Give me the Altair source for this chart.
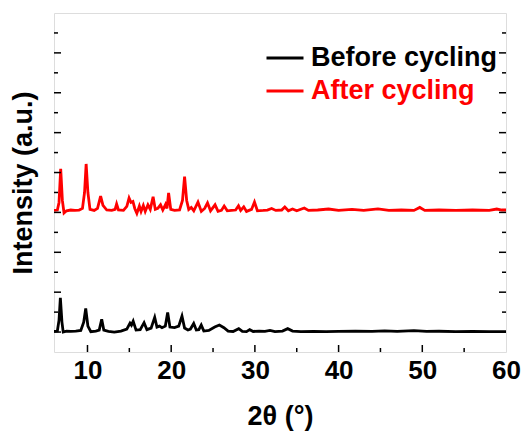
import altair as alt
import pandas as pd

# ---- data ----
after_x = [6.0, 6.4, 6.6, 6.8, 7.0, 7.2, 7.5, 8.0, 8.5, 9.0, 9.4, 9.65, 9.84, 10.05, 10.3, 10.8,
           11.2, 11.57, 11.85, 12.3, 12.9, 13.3, 13.48, 13.7, 14.3, 14.7, 14.97, 15.2, 15.43, 15.65,
           15.9, 16.2, 16.4, 16.67, 16.9, 17.22, 17.5, 17.84, 18.1, 18.4, 18.73, 19.0, 19.33, 19.5,
           19.69, 19.95, 20.4, 21.0, 21.35, 21.6, 21.85, 22.1, 22.4, 22.7, 23.2, 23.6, 24.0, 24.34,
           24.7, 25.24, 25.6, 26.0, 26.33, 26.7, 27.2, 27.7, 28.04, 28.3, 28.67, 29.0, 29.6, 29.95,
           30.3, 31.0, 31.5, 32.0, 32.5, 33.2, 33.57, 34.0, 34.5, 35.0, 35.9, 36.4, 37.5, 38.8,
           40.0, 41.6, 43.0, 44.7, 46.0, 47.5, 49.0, 49.7, 50.3, 52.0, 54.0, 56.0, 58.0, 58.9,
           59.5, 60.0]
after_y = [7.10, 7.12, 7.5, 9.19, 7.6, 6.97, 7.08, 7.12, 7.1, 7.12, 7.2, 8.0, 9.43, 8.0, 7.15, 7.1,
           7.2, 7.82, 7.35, 7.12, 7.1, 7.15, 7.42, 7.12, 7.1, 7.3, 7.72, 7.5, 7.55, 7.2,
           6.95, 7.32, 7.05, 7.35, 7.05, 7.38, 7.15, 7.78, 7.15, 7.2, 7.38, 7.12, 7.4, 7.2,
           7.98, 7.15, 7.1, 7.12, 7.6, 8.8, 7.6, 7.15, 7.25, 7.08, 7.52, 7.05, 7.2, 7.48,
           7.08, 7.38, 7.05, 7.1, 7.32, 7.08, 7.1, 7.12, 7.33, 7.1, 7.28, 7.05, 7.15, 7.52,
           7.08, 7.1, 7.12, 7.2, 7.1, 7.12, 7.27, 7.08, 7.17, 7.08, 7.22, 7.1, 7.12, 7.17,
           7.1, 7.15, 7.1, 7.18, 7.1, 7.12, 7.1, 7.25, 7.1, 7.12, 7.1, 7.12, 7.1, 7.17,
           7.12, 7.12]

before_x = [6.0, 6.4, 6.6, 6.76, 6.95, 7.1, 7.5, 8.0, 8.6, 9.2, 9.55, 9.79, 10.05, 10.4, 11.0,
            11.4, 11.70, 11.95, 12.5, 13.2, 14.0, 14.7, 15.08, 15.25, 15.46, 15.8, 16.3, 16.76,
            17.1, 17.6, 18.03, 18.3, 18.6, 18.9, 19.3, 19.58, 19.85, 20.4, 20.9, 21.29, 21.6,
            22.0, 22.3, 22.69, 23.0, 23.3, 23.59, 23.9, 24.5, 25.2, 25.76, 26.3, 26.8, 27.4,
            28.07, 28.5, 29.0, 29.38, 29.8, 30.5, 31.2, 31.8, 32.4, 33.3, 33.92, 34.5, 35.5,
            37.0, 38.5, 40.0, 42.0, 44.0, 45.5, 47.0, 49.0, 50.5, 52.0, 54.0, 56.0, 58.0, 60.0]
before_y = [1.03, 1.05, 1.6, 2.72, 1.5, 1.0, 1.05, 1.03, 1.05, 1.08, 1.5, 2.18, 1.3, 1.02, 1.05,
            1.1, 1.64, 1.1, 1.03, 1.0, 1.05, 1.15, 1.45, 1.35, 1.55, 1.1, 1.12, 1.47,
            1.12, 1.2, 1.74, 1.25, 1.3, 1.22, 1.3, 1.98, 1.25, 1.22, 1.3, 1.8, 1.2,
            1.1, 1.15, 1.43, 1.1, 1.12, 1.35, 1.05, 1.08, 1.25, 1.35, 1.22, 1.05, 1.03,
            1.17, 1.03, 1.02, 1.12, 1.03, 1.05, 1.03, 1.08, 1.02, 1.05, 1.17, 1.05, 1.02,
            1.03, 1.02, 1.03, 1.05, 1.03, 1.06, 1.03, 1.07, 1.03, 1.04, 1.02, 1.03, 1.02, 1.02]

series_names = ["Before cycling", "After cycling"]
series_colors = ["#000000", "#ff0000"]

x_major = [10, 20, 30, 40, 50]
x_minor = [15, 25, 35, 45, 55]
x_labels = [10, 20, 30, 40, 50, 60]
y_major = [1, 3, 5, 7, 9, 11, 13, 15]
y_minor = [2, 4, 6, 8, 10, 12, 14, 16]

# ---- build ----
W, H = 452, 339
FONT = "Liberation Sans"

df = pd.concat([
    pd.DataFrame({"x": before_x, "y": before_y, "s": series_names[0], "o": 0}),
    pd.DataFrame({"x": after_x, "y": after_y, "s": series_names[1], "o": 1}),
])

xscale = alt.Scale(domain=[6, 60], nice=False, zero=False)
yscale = alt.Scale(domain=[0, 17], nice=False, zero=False)

lines = alt.Chart(df).mark_line(strokeWidth=2.8, clip=True).encode(
    x=alt.X("x:Q", scale=xscale,
            axis=alt.Axis(title="2θ (°)", values=x_labels, ticks=False, tickSize=0, domain=False,
                          grid=False, labelFontSize=26, labelFont=FONT, labelFontWeight="bold",
                          labelColor="#000", labelPadding=5, titleFontSize=27, titleFont=FONT,
                          titleFontWeight="bold", titleColor="#000", titlePadding=20,
                          labelFlush=False)),
    y=alt.Y("y:Q", scale=yscale,
            axis=alt.Axis(title="Intensity (a.u.)", labels=False, ticks=False, domain=False,
                          grid=False, titleFontSize=27, titleFont=FONT, titleFontWeight="bold",
                          titleColor="#000", titlePadding=17)),
    color=alt.Color("s:N", scale=alt.Scale(domain=series_names, range=series_colors),
                    legend=alt.Legend(title=None, orient="none", legendX=211, legendY=25,
                                      symbolType="stroke", symbolSize=1369, symbolStrokeWidth=3,
                                      labelFontSize=27, labelFont=FONT, labelFontWeight="bold",
                                      labelColor={"expr": "datum.label === 'After cycling' ? '#ff0000' : '#000000'"},
                                      labelLimit=0, labelOffset=6, rowPadding=-3, padding=0)),
    detail="s:N",
    order="o:Q",
)


def tick_rules(vals, channel, length):
    d = pd.DataFrame({"v": vals})
    base = alt.Chart(d).mark_rule(color="#000", strokeWidth=1.5)
    if channel == "x":
        return base.encode(x=alt.X("v:Q", scale=xscale), y=alt.value(H), y2=alt.value(H - length))
    if channel == "yl":
        return base.encode(y=alt.Y("v:Q", scale=yscale), x=alt.value(0), x2=alt.value(length))
    return base.encode(y=alt.Y("v:Q", scale=yscale), x=alt.value(W), x2=alt.value(W - length))


chart = alt.layer(
    lines,
    tick_rules(x_major, "x", 7),
    tick_rules(x_minor, "x", 4),
    tick_rules(y_major, "yl", 7),
    tick_rules(y_minor, "yl", 4),
    tick_rules(y_major, "yr", 7),
    tick_rules(y_minor, "yr", 4),
).properties(
    width=W, height=H,
    padding={"left": 46, "top": 5, "right": 17, "bottom": 80},
    autosize=alt.AutoSizeParams(type="none"),
).configure_view(stroke="#000", strokeWidth=2).configure(background="white")

chart.save("out.html", embed_options={"renderer": "svg", "actions": False})
